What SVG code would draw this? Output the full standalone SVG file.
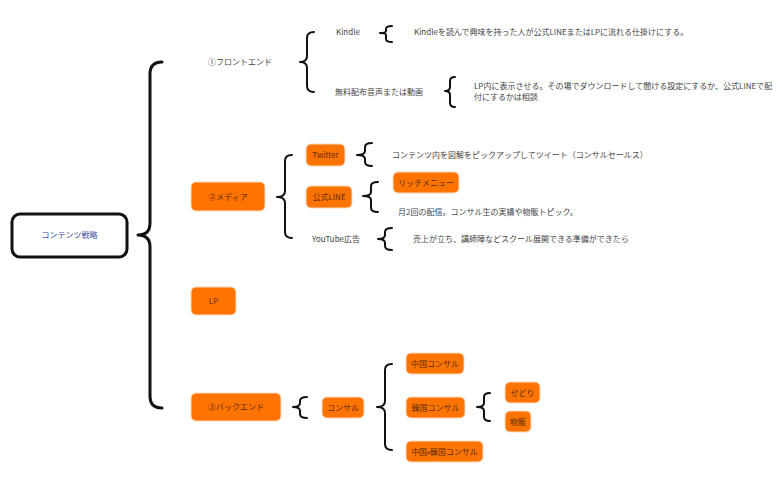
<svg xmlns="http://www.w3.org/2000/svg" width="782" height="484" viewBox="0 0 782 484">
<style>
text{font-family:"Noto Sans CJK JP","Noto Sans",sans-serif;font-size:8px;fill:#444}
.o{fill:#ff7400;stroke:#ffd9bd;stroke-width:1}
.c{text-anchor:middle;fill:#5a2a00}
.b{fill:none;stroke:#111;stroke-width:2;stroke-linecap:round;stroke-linejoin:round}
</style>
<rect width="782" height="484" fill="#fff"/>
<g id="connectors">
<path class="b" style="stroke-width:3" d="M162 62 Q150 62 150 74 L150 223 Q150 235 138 235 Q150 235 150 247 L150 396 Q150 408 162 408"/>
<path class="b" d="M314 32 Q307 32 307 38 L307 56 Q307 62 300 62 Q307 62 307 68 L307 86 Q307 92 314 92"/>
<path class="b" d="M392 26 Q386 26 386 29 L386 31 Q386 33 380 33 Q386 33 386 35 L386 39 Q386 42 392 42"/>
<path class="b" d="M455 77 Q450 77 450 81 L450 87 Q450 91 445 91 Q450 91 450 95 L450 103 Q450 107 455 107"/>
<path class="b" d="M292 155 Q285 155 285 161 L285 191 Q285 197 277 197 Q285 197 285 203 L285 232 Q285 238 292 238"/>
<path class="b" d="M372 143 Q365 143 365 147 L365 151 Q365 155 357 155 Q365 155 365 159 L365 162 Q365 166 372 166"/>
<path class="b" d="M378 182 Q371 182 371 186 L371 192 Q371 196 363 196 Q371 196 371 200 L371 208 Q371 212 378 212"/>
<path class="b" d="M392 228 Q385 228 385 232 L385 235 Q385 239 378 239 Q385 239 385 243 L385 246 Q385 250 392 250"/>
<path class="b" d="M307 397 Q300 397 300 401 L300 403 Q300 407 293 407 Q300 407 300 411 L300 414 Q300 418 307 418"/>
<path class="b" d="M392 364 Q385 364 385 370 L385 401 Q385 407 377 407 Q385 407 385 413 L385 444 Q385 450 392 450"/>
<path class="b" d="M490 393 Q484 393 484 397 L484 403 Q484 407 477 407 Q484 407 484 411 L484 417 Q484 421 490 421"/>
</g>
<g id="root"><rect x="12" y="214" width="115" height="43" rx="8" fill="#fff" stroke="#111" stroke-width="3"/><text x="69.5" y="238" text-anchor="middle" style="fill:#3a4aa0">コンテンツ戦略</text></g>
<g id="front"><text x="208" y="65">①フロントエンド</text></g>
<g id="kindle"><text x="336" y="35">Kindle</text></g>
<g id="kindle-d"><text x="414" y="35">Kindleを読んで興味を持った人が公式LINEまたはLPに流れる仕掛けにする。</text></g>
<g id="free"><text x="335" y="95">無料配布音声または動画</text></g>
<g id="free-d"><text x="474" y="89">LP内に表示させる。その場でダウンロードして聞ける設定にするか、公式LINEで配</text><text x="474" y="100">付にするかは相談</text></g>
<g id="media"><rect class="o" x="191" y="182" width="74" height="29" rx="5"/><text class="c" x="228" y="199.5">②メディア</text></g>
<g id="twitter"><rect class="o" x="306" y="144" width="39" height="22" rx="5"/><text class="c" x="325.5" y="158">Twitter</text></g>
<g id="twitter-d"><text x="392" y="158">コンテンツ内を図解をピックアップしてツイート（コンサルセールス）</text></g>
<g id="line"><rect class="o" x="306" y="186" width="46" height="22" rx="5"/><text class="c" x="329" y="200">公式LINE</text></g>
<g id="rich"><rect class="o" x="393" y="172" width="66" height="21" rx="5"/><text class="c" x="426" y="185.5">リッチメニュー</text></g>
<g id="line-d"><text x="398" y="215">月2回の配信。コンサル生の実績や物販トピック。</text></g>
<g id="yt"><text x="312" y="242">YouTube広告</text></g>
<g id="yt-d"><text x="413" y="242">売上が立ち、講師陣などスクール展開できる準備ができたら</text></g>
<g id="lp"><rect class="o" x="191" y="287" width="45" height="28" rx="5"/><text class="c" x="213.5" y="304">LP</text></g>
<g id="back"><rect class="o" x="191" y="393" width="90" height="28" rx="5"/><text class="c" x="236" y="410">③バックエンド</text></g>
<g id="consul"><rect class="o" x="322" y="397" width="42" height="21" rx="5"/><text class="c" x="343" y="410.5">コンサル</text></g>
<g id="cn"><rect class="o" x="406" y="353" width="58" height="21" rx="5"/><text class="c" x="435" y="366.5">中国コンサル</text></g>
<g id="kr"><rect class="o" x="406" y="397" width="59" height="21" rx="5"/><text class="c" x="435.5" y="410.5">韓国コンサル</text></g>
<g id="cnkr"><rect class="o" x="406" y="441" width="77" height="21" rx="5"/><text class="c" x="444.5" y="454.5">中国•韓国コンサル</text></g>
<g id="sedori"><rect class="o" x="505" y="382" width="35" height="21" rx="5"/><text class="c" x="522.5" y="395.5">せどり</text></g>
<g id="buppan"><rect class="o" x="505" y="411" width="26" height="21" rx="5"/><text class="c" x="518" y="424.5">物販</text></g>
</svg>
